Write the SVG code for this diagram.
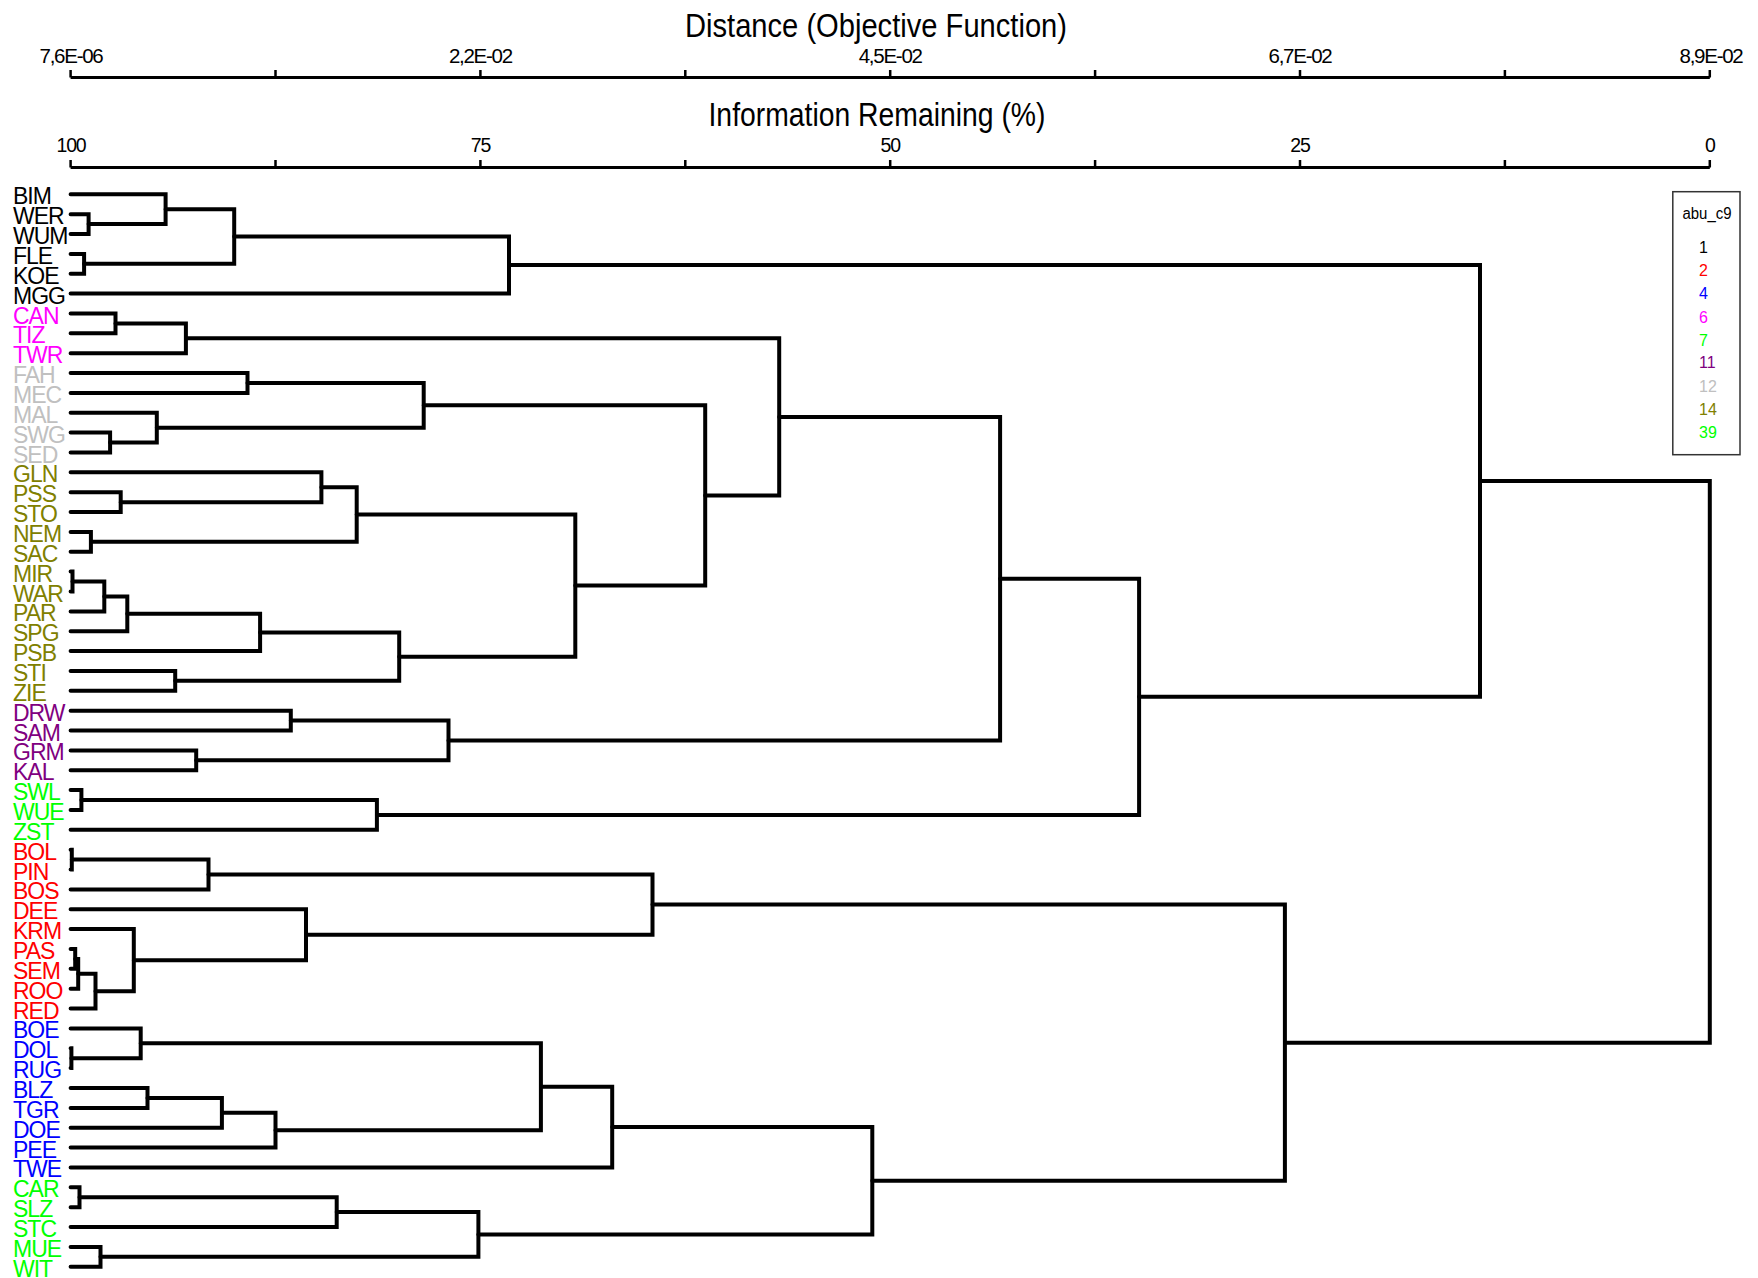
<svg xmlns="http://www.w3.org/2000/svg" width="1758" height="1278" viewBox="0 0 1758 1278">
<style>
text{font-family:"Liberation Sans",Arial,sans-serif}
.title{font-size:33px;text-anchor:middle;fill:#000}
.tick{font-size:19.5px;text-anchor:middle;letter-spacing:-1.2px;fill:#000}
.axis{stroke:#000;stroke-width:3;fill:none}
.tk{stroke:#000;stroke-width:2.5}
.br{fill:none;stroke:#000;stroke-width:4;stroke-linecap:round;stroke-linejoin:miter}
.lf{font-size:23px;letter-spacing:-1px}
.c1{fill:#000}.c2{fill:#ff0000}.c4{fill:#0000ff}.c6{fill:#ff00ff}.c7{fill:#00ff00}
.c11{fill:#800080}.c12{fill:#c0c0c0}.c14{fill:#808000}.c39{fill:#00ff00}
.lg{font-size:16px}
</style>
<rect width="1758" height="1278" fill="#fff"/>
<g id="axis-distance">
<text class="title" x="876" y="37" textLength="382" lengthAdjust="spacingAndGlyphs">Distance (Objective Function)</text>
<path class="axis" d="M70.6,77.5 H1709.8"/>
<path class="tk" d="M70.6,70 V77.5 M275.5,70 V77.5 M480.4,70 V77.5 M685.3,70 V77.5 M890.2,70 V77.5 M1095.1,70 V77.5 M1300,70 V77.5 M1504.9,70 V77.5 M1709.8,70 V77.5"/>
<text class="tick" x="71" y="63" textLength="63" lengthAdjust="spacingAndGlyphs">7,6E-06</text>
<text class="tick" x="480.4" y="63" textLength="63" lengthAdjust="spacingAndGlyphs">2,2E-02</text>
<text class="tick" x="890.2" y="63" textLength="63" lengthAdjust="spacingAndGlyphs">4,5E-02</text>
<text class="tick" x="1300" y="63" textLength="63" lengthAdjust="spacingAndGlyphs">6,7E-02</text>
<text class="tick" x="1711" y="63" textLength="63" lengthAdjust="spacingAndGlyphs">8,9E-02</text>
</g>
<g id="axis-information">
<text class="title" x="877" y="126" textLength="337" lengthAdjust="spacingAndGlyphs">Information Remaining (%)</text>
<path class="axis" d="M70.6,167.5 H1709.8"/>
<path class="tk" d="M70.6,160 V167.5 M275.5,160 V167.5 M480.4,160 V167.5 M685.3,160 V167.5 M890.2,160 V167.5 M1095.1,160 V167.5 M1300,160 V167.5 M1504.9,160 V167.5 M1709.8,160 V167.5"/>
<text class="tick" x="71" y="152">100</text>
<text class="tick" x="480.4" y="152">75</text>
<text class="tick" x="890.2" y="152">50</text>
<text class="tick" x="1300" y="152">25</text>
<text class="tick" x="1709.8" y="152">0</text>
</g>
<g id="connectors">
<path class="br" d="M70.6,214.2 H88.6 V234.0 H70.6"/>
<path class="br" d="M70.6,194.3 H165.6 V224.1 H88.6"/>
<path class="br" d="M70.6,253.9 H84.1 V273.7 H70.6"/>
<path class="br" d="M165.6,209.2 H234.2 V263.8 H84.1"/>
<path class="br" d="M234.2,236.5 H509 V293.6 H70.6"/>
<path class="br" d="M70.6,313.5 H115.5 V333.3 H70.6"/>
<path class="br" d="M115.5,323.4 H185.9 V353.2 H70.6"/>
<path class="br" d="M70.6,373.0 H247.5 V392.9 H70.6"/>
<path class="br" d="M70.6,432.6 H110.1 V452.5 H70.6"/>
<path class="br" d="M70.6,412.8 H156.8 V442.6 H110.1"/>
<path class="br" d="M247.5,383.0 H423.7 V427.7 H156.8"/>
<path class="br" d="M70.6,492.2 H120.7 V512.1 H70.6"/>
<path class="br" d="M70.6,472.3 H321.4 V502.15 H120.7"/>
<path class="br" d="M70.6,531.9 H90.9 V551.8 H70.6"/>
<path class="br" d="M321.4,487.2 H356.7 V541.85 H90.9"/>
<path class="br" d="M70.6,571.6 H72.5 V591.5 H70.6"/>
<path class="br" d="M72.5,581.55 H104.3 V611.4 H70.6"/>
<path class="br" d="M104.3,596.5 H127.3 V631.2 H70.6"/>
<path class="br" d="M127.3,613.85 H260.1 V651.1 H70.6"/>
<path class="br" d="M70.6,670.9 H175.2 V690.8 H70.6"/>
<path class="br" d="M260.1,632.5 H399.2 V680.85 H175.2"/>
<path class="br" d="M356.7,514.5 H575.3 V656.7 H399.2"/>
<path class="br" d="M423.7,405.35 H705.2 V585.6 H575.3"/>
<path class="br" d="M185.9,338.3 H779.2 V495.5 H705.2"/>
<path class="br" d="M70.6,710.7 H290.8 V730.5 H70.6"/>
<path class="br" d="M70.6,750.4 H196.2 V770.2 H70.6"/>
<path class="br" d="M290.8,720.6 H448.5 V760.3 H196.2"/>
<path class="br" d="M779.2,416.9 H1000.1 V740.45 H448.5"/>
<path class="br" d="M70.6,790.1 H81.4 V810.0 H70.6"/>
<path class="br" d="M81.4,800.05 H376.9 V829.8 H70.6"/>
<path class="br" d="M1000.1,578.7 H1139.1 V814.9 H376.9"/>
<path class="br" d="M509,265.05 H1480 V696.8 H1139.1"/>
<path class="br" d="M70.6,849.7 H71.8 V869.5 H70.6"/>
<path class="br" d="M71.8,859.6 H208.5 V889.4 H70.6"/>
<path class="br" d="M70.6,949.0 H75.2 V968.8 H70.6"/>
<path class="br" d="M75.2,958.9 H78.2 V988.7 H70.6"/>
<path class="br" d="M78.2,973.8 H95.5 V1008.6 H70.6"/>
<path class="br" d="M70.6,929.1 H133.8 V991.2 H95.5"/>
<path class="br" d="M70.6,909.3 H306 V960.15 H133.8"/>
<path class="br" d="M208.5,874.5 H652.5 V934.7 H306"/>
<path class="br" d="M70.6,1048.3 H71.4 V1068.1 H70.6"/>
<path class="br" d="M70.6,1028.4 H140.7 V1058.2 H71.4"/>
<path class="br" d="M70.6,1088.0 H147.5 V1107.9 H70.6"/>
<path class="br" d="M147.5,1097.95 H221.9 V1127.7 H70.6"/>
<path class="br" d="M221.9,1112.8 H275.5 V1147.6 H70.6"/>
<path class="br" d="M140.7,1043.3 H540.9 V1130.2 H275.5"/>
<path class="br" d="M540.9,1086.75 H612.2 V1167.4 H70.6"/>
<path class="br" d="M70.6,1187.3 H79.5 V1207.2 H70.6"/>
<path class="br" d="M79.5,1197.25 H336.7 V1227.0 H70.6"/>
<path class="br" d="M70.6,1246.9 H100.5 V1266.7 H70.6"/>
<path class="br" d="M336.7,1212.1 H478.4 V1256.8 H100.5"/>
<path class="br" d="M612.2,1127.1 H872.3 V1234.45 H478.4"/>
<path class="br" d="M652.5,904.6 H1284.9 V1180.8 H872.3"/>
<path class="br" d="M1480,480.9 H1709.8 V1042.7 H1284.9"/>
</g>
<g id="leaves">
<g id="leaf-BIM"><text class="lf c1" x="13" y="204.3">BIM</text></g>
<g id="leaf-WER"><text class="lf c1" x="13" y="224.2">WER</text></g>
<g id="leaf-WUM"><text class="lf c1" x="13" y="244">WUM</text></g>
<g id="leaf-FLE"><text class="lf c1" x="13" y="263.9">FLE</text></g>
<g id="leaf-KOE"><text class="lf c1" x="13" y="283.7">KOE</text></g>
<g id="leaf-MGG"><text class="lf c1" x="13" y="303.6">MGG</text></g>
<g id="leaf-CAN"><text class="lf c6" x="13" y="323.5">CAN</text></g>
<g id="leaf-TIZ"><text class="lf c6" x="13" y="343.3">TIZ</text></g>
<g id="leaf-TWR"><text class="lf c6" x="13" y="363.2">TWR</text></g>
<g id="leaf-FAH"><text class="lf c12" x="13" y="383">FAH</text></g>
<g id="leaf-MEC"><text class="lf c12" x="13" y="402.9">MEC</text></g>
<g id="leaf-MAL"><text class="lf c12" x="13" y="422.8">MAL</text></g>
<g id="leaf-SWG"><text class="lf c12" x="13" y="442.6">SWG</text></g>
<g id="leaf-SED"><text class="lf c12" x="13" y="462.5">SED</text></g>
<g id="leaf-GLN"><text class="lf c14" x="13" y="482.3">GLN</text></g>
<g id="leaf-PSS"><text class="lf c14" x="13" y="502.2">PSS</text></g>
<g id="leaf-STO"><text class="lf c14" x="13" y="522.1">STO</text></g>
<g id="leaf-NEM"><text class="lf c14" x="13" y="541.9">NEM</text></g>
<g id="leaf-SAC"><text class="lf c14" x="13" y="561.8">SAC</text></g>
<g id="leaf-MIR"><text class="lf c14" x="13" y="581.6">MIR</text></g>
<g id="leaf-WAR"><text class="lf c14" x="13" y="601.5">WAR</text></g>
<g id="leaf-PAR"><text class="lf c14" x="13" y="621.4">PAR</text></g>
<g id="leaf-SPG"><text class="lf c14" x="13" y="641.2">SPG</text></g>
<g id="leaf-PSB"><text class="lf c14" x="13" y="661.1">PSB</text></g>
<g id="leaf-STI"><text class="lf c14" x="13" y="680.9">STI</text></g>
<g id="leaf-ZIE"><text class="lf c14" x="13" y="700.8">ZIE</text></g>
<g id="leaf-DRW"><text class="lf c11" x="13" y="720.7">DRW</text></g>
<g id="leaf-SAM"><text class="lf c11" x="13" y="740.5">SAM</text></g>
<g id="leaf-GRM"><text class="lf c11" x="13" y="760.4">GRM</text></g>
<g id="leaf-KAL"><text class="lf c11" x="13" y="780.2">KAL</text></g>
<g id="leaf-SWL"><text class="lf c7" x="13" y="800.1">SWL</text></g>
<g id="leaf-WUE"><text class="lf c7" x="13" y="820">WUE</text></g>
<g id="leaf-ZST"><text class="lf c7" x="13" y="839.8">ZST</text></g>
<g id="leaf-BOL"><text class="lf c2" x="13" y="859.7">BOL</text></g>
<g id="leaf-PIN"><text class="lf c2" x="13" y="879.5">PIN</text></g>
<g id="leaf-BOS"><text class="lf c2" x="13" y="899.4">BOS</text></g>
<g id="leaf-DEE"><text class="lf c2" x="13" y="919.3">DEE</text></g>
<g id="leaf-KRM"><text class="lf c2" x="13" y="939.1">KRM</text></g>
<g id="leaf-PAS"><text class="lf c2" x="13" y="959">PAS</text></g>
<g id="leaf-SEM"><text class="lf c2" x="13" y="978.8">SEM</text></g>
<g id="leaf-ROO"><text class="lf c2" x="13" y="998.7">ROO</text></g>
<g id="leaf-RED"><text class="lf c2" x="13" y="1018.6">RED</text></g>
<g id="leaf-BOE"><text class="lf c4" x="13" y="1038.4">BOE</text></g>
<g id="leaf-DOL"><text class="lf c4" x="13" y="1058.3">DOL</text></g>
<g id="leaf-RUG"><text class="lf c4" x="13" y="1078.1">RUG</text></g>
<g id="leaf-BLZ"><text class="lf c4" x="13" y="1098">BLZ</text></g>
<g id="leaf-TGR"><text class="lf c4" x="13" y="1117.9">TGR</text></g>
<g id="leaf-DOE"><text class="lf c4" x="13" y="1137.7">DOE</text></g>
<g id="leaf-PEE"><text class="lf c4" x="13" y="1157.6">PEE</text></g>
<g id="leaf-TWE"><text class="lf c4" x="13" y="1177.4">TWE</text></g>
<g id="leaf-CAR"><text class="lf c39" x="13" y="1197.3">CAR</text></g>
<g id="leaf-SLZ"><text class="lf c39" x="13" y="1217.2">SLZ</text></g>
<g id="leaf-STC"><text class="lf c39" x="13" y="1237">STC</text></g>
<g id="leaf-MUE"><text class="lf c39" x="13" y="1256.9">MUE</text></g>
<g id="leaf-WIT"><text class="lf c39" x="13" y="1276.7">WIT</text></g>
</g>
<g id="legend">
<rect x="1672.8" y="191.7" width="67.2" height="263" fill="#fff" stroke="#333" stroke-width="1.5"/>
<text class="lg c1" x="1707" y="219" text-anchor="middle" textLength="49" lengthAdjust="spacingAndGlyphs">abu_c9</text>
<text class="lg c1" x="1699" y="252.7">1</text>
<text class="lg c2" x="1699" y="276">2</text>
<text class="lg c4" x="1699" y="299.3">4</text>
<text class="lg c6" x="1699" y="322.7">6</text>
<text class="lg c7" x="1699" y="346">7</text>
<text class="lg c11" x="1699" y="368.3">11</text>
<text class="lg c12" x="1699" y="391.7">12</text>
<text class="lg c14" x="1699" y="415">14</text>
<text class="lg c39" x="1699" y="438.3">39</text>
</g>
</svg>
